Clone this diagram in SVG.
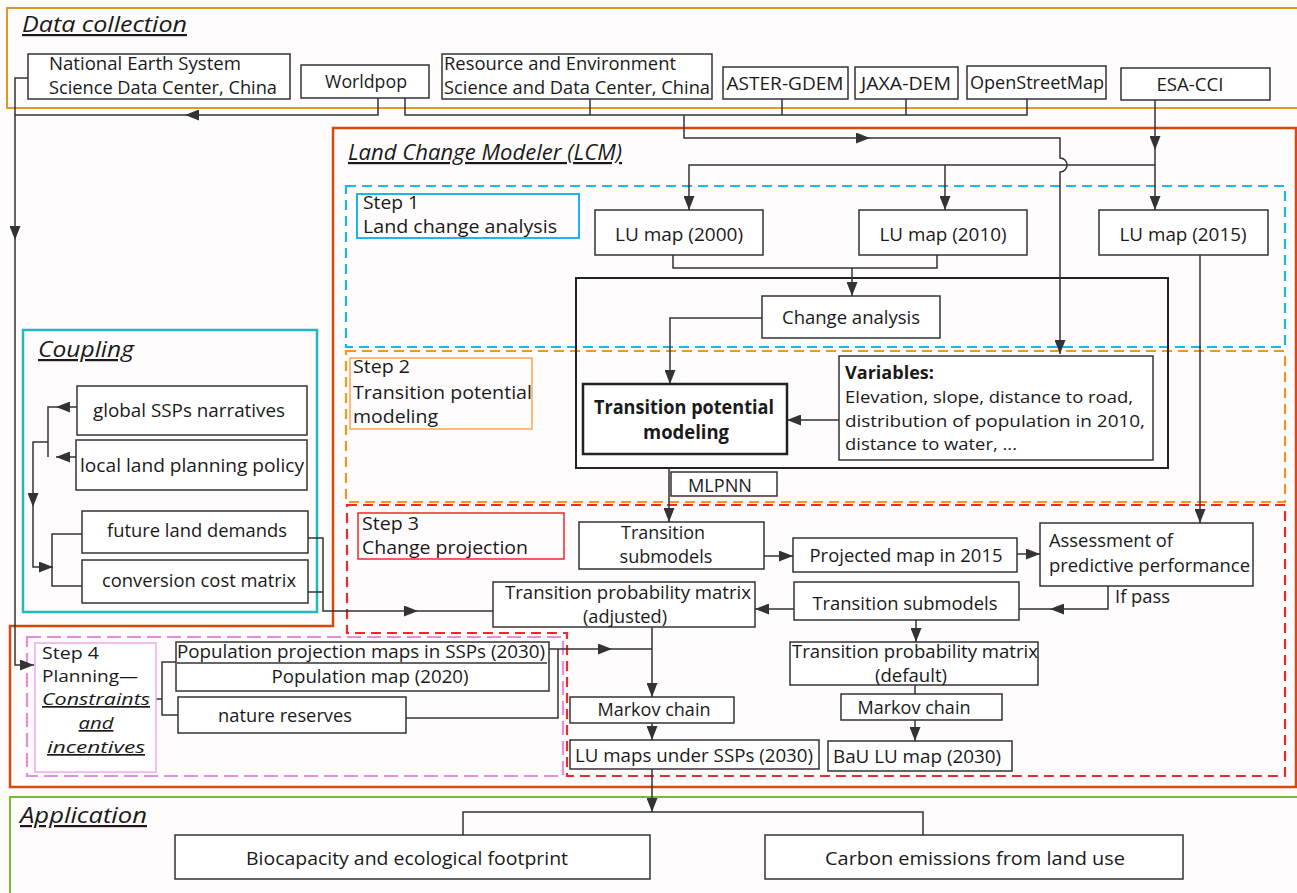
<svg xmlns="http://www.w3.org/2000/svg" width="1297" height="893" viewBox="0 0 1297 893">
<style>
text{font-family:"Open Sans","Noto Sans",sans-serif;font-size:19px;fill:#1a1a1a}
.c{text-anchor:middle}
.ttl{font-size:22px;font-style:italic;text-decoration:underline}
.it{font-style:italic;text-decoration:underline}
.b{font-weight:bold}
.v{font-size:17px}
.s4{font-size:17px}
.m{font-size:17.5px}
.box{fill:#fff;stroke:#333;stroke-width:1.5}
.bold{fill:none;stroke:#222;stroke-width:2.5}
.ln{fill:none;stroke:#333;stroke-width:1.5}
.dash{fill:none;stroke-width:2.2;stroke-dasharray:10 6}
</style>
<defs>
<marker id="a" markerUnits="userSpaceOnUse" markerWidth="14" markerHeight="11" refX="14" refY="5.5" orient="auto"><path d="M0,0 L14,5.5 L0,11 z" fill="#333"/></marker>
</defs>
<rect width="1297" height="893" fill="#fefcfc"/>

<g id="frames">
<rect x="7" y="8" width="1300" height="100" fill="none" stroke="#e09a24" stroke-width="2"/>
<path d="M333,128 H1296 V787 H10 V626 H333 Z" fill="none" stroke="#d9480f" stroke-width="2.5"/>
<rect x="10" y="797" width="1300" height="110" fill="none" stroke="#7dba2f" stroke-width="2"/>
<rect x="23" y="330" width="294" height="282" fill="none" stroke="#22b8bd" stroke-width="2.5"/>
<rect x="346" y="186" width="939" height="161" class="dash" stroke="#1cb5ef"/>
<rect x="346" y="351" width="939" height="151" class="dash" stroke="#f7941d"/>
<path d="M347,505 H1285 V776 H567 V633 H347 Z" class="dash" stroke="#ee2a2a"/>
<rect x="27" y="637" width="536" height="139" class="dash" stroke="#e58fd8" style="stroke-dasharray:14 6"/>
<rect x="576" y="278" width="592" height="190" class="bold" style="stroke-width:2"/>
<text x="22" y="32" class="ttl" textLength="165" lengthAdjust="spacingAndGlyphs">Data collection</text>
<text x="348" y="160" class="ttl" textLength="274" lengthAdjust="spacingAndGlyphs">Land Change Modeler (LCM)</text>
<text x="38" y="357" class="ttl" textLength="96" lengthAdjust="spacingAndGlyphs">Coupling</text>
<text x="20" y="823" class="ttl" textLength="127" lengthAdjust="spacingAndGlyphs">Application</text>
</g>

<g id="connectors" class="ln">
<path d="M28,78 H15 V115"/>
<path d="M378,98 V115 H185" marker-end="url(#a)"/>
<path d="M185,115 H15 V240" marker-end="url(#a)"/>
<path d="M15,240 V665 H34" marker-end="url(#a)"/>
<path d="M405,98 V115 H1027 V99"/>
<path d="M590,99 V115 M782,99 V115 M906,99 V115"/>
<path d="M684,115 V138 H870" marker-end="url(#a)"/>
<path d="M870,138 H1060 V158 A7,7 0 0 1 1060,172 V354" marker-end="url(#a)"/>
<path d="M1155,100 V150" marker-end="url(#a)"/>
<path d="M1155,150 V210" marker-end="url(#a)"/>
<path d="M1155,165 H689 V210" marker-end="url(#a)"/>
<path d="M945,165 V210" marker-end="url(#a)"/>
<path d="M673,255 V268 H937 V255"/>
<path d="M852,268 V296" marker-end="url(#a)"/>
<path d="M762,318 H670 V384" marker-end="url(#a)"/>
<path d="M839,420 H787" marker-end="url(#a)"/>
<path d="M669,468 V522" marker-end="url(#a)"/>
<path d="M1200,255 V523" marker-end="url(#a)"/>
<path d="M764,556 H793" marker-end="url(#a)"/>
<path d="M1017,554 H1040" marker-end="url(#a)"/>
<path d="M1108,586 V609 H1050" marker-end="url(#a)"/>
<path d="M1050,609 H1019"/>
<path d="M794,609 H755" marker-end="url(#a)"/>
<path d="M308,538 H323 V611 H418" marker-end="url(#a)"/>
<path d="M418,611 H493 M308,592 H323"/>
<path d="M916,620 V642" marker-end="url(#a)"/>
<path d="M915,685 V694"/>
<path d="M915,720 V741" marker-end="url(#a)"/>
<path d="M652,627 V697" marker-end="url(#a)"/>
<path d="M549,649 H612" marker-end="url(#a)"/>
<path d="M612,649 H652 M406,718 H558 V649"/>
<path d="M652,723 V740" marker-end="url(#a)"/>
<path d="M652,769 V812" marker-end="url(#a)"/>
<path d="M463,835 V812 H923 V835"/>
<path d="M156,699 H162 M176,662 H162 V715 H178"/>
<path d="M77,407 H56" marker-end="url(#a)"/>
<path d="M76,457 H56" marker-end="url(#a)"/>
<path d="M56,407 H48 V457 M48,442 H33 V507" marker-end="url(#a)"/>
<path d="M33,507 V567 H53" marker-end="url(#a)"/>
<path d="M82,534 H52 V586 H82"/>
</g>

<g id="n-national"><rect x="28" y="54" width="262" height="45" class="box"/>
<text x="49" y="70" textLength="192" lengthAdjust="spacingAndGlyphs">National Earth System</text>
<text x="49" y="94" textLength="228" lengthAdjust="spacingAndGlyphs">Science Data Center, China</text></g>
<g id="n-worldpop"><rect x="301" y="65" width="128" height="33" class="box"/>
<text x="366" y="88" class="c" textLength="82" lengthAdjust="spacingAndGlyphs">Worldpop</text></g>
<g id="n-resource"><rect x="442" y="54" width="270" height="45" class="box"/>
<text x="444" y="70" textLength="232" lengthAdjust="spacingAndGlyphs">Resource and Environment</text>
<text x="444" y="94" textLength="266" lengthAdjust="spacingAndGlyphs">Science and Data Center, China</text></g>
<g id="n-aster"><rect x="723" y="67" width="125" height="32" class="box"/>
<text x="785" y="90" class="c" textLength="117" lengthAdjust="spacingAndGlyphs">ASTER-GDEM</text></g>
<g id="n-jaxa"><rect x="855" y="67" width="103" height="32" class="box"/>
<text x="906" y="90" class="c" textLength="90" lengthAdjust="spacingAndGlyphs">JAXA-DEM</text></g>
<g id="n-osm"><rect x="967" y="66" width="139" height="33" class="box"/>
<text x="1037" y="89" class="c" textLength="134" lengthAdjust="spacingAndGlyphs">OpenStreetMap</text></g>
<g id="n-esa"><rect x="1121" y="68" width="149" height="32" class="box"/>
<text x="1190" y="91" class="c" textLength="67" lengthAdjust="spacingAndGlyphs">ESA-CCI</text></g>

<g id="n-step1"><rect x="357" y="194" width="222" height="44" fill="none" stroke="#1cb5ef" stroke-width="2"/>
<text x="363" y="209" textLength="56" lengthAdjust="spacingAndGlyphs">Step 1</text>
<text x="363" y="233" textLength="194" lengthAdjust="spacingAndGlyphs">Land change analysis</text></g>
<g id="n-lu2000"><rect x="595" y="210" width="168" height="45" class="box"/>
<text x="679" y="241" class="c" textLength="128" lengthAdjust="spacingAndGlyphs">LU map (2000)</text></g>
<g id="n-lu2010"><rect x="859" y="210" width="168" height="45" class="box"/>
<text x="943" y="241" class="c" textLength="127" lengthAdjust="spacingAndGlyphs">LU map (2010)</text></g>
<g id="n-lu2015"><rect x="1099" y="210" width="169" height="45" class="box"/>
<text x="1183" y="241" class="c" textLength="127" lengthAdjust="spacingAndGlyphs">LU map (2015)</text></g>
<g id="n-change"><rect x="762" y="296" width="178" height="42" class="box"/>
<text x="851" y="324" class="c" textLength="138" lengthAdjust="spacingAndGlyphs">Change analysis</text></g>

<g id="n-step2"><rect x="350" y="358" width="182" height="71" fill="none" stroke="#f7941d" stroke-width="1.2"/>
<text x="353" y="373" textLength="57" lengthAdjust="spacingAndGlyphs">Step 2</text>
<text x="353" y="399" textLength="179" lengthAdjust="spacingAndGlyphs">Transition potential</text>
<text x="353" y="423" textLength="85" lengthAdjust="spacingAndGlyphs">modeling</text></g>
<g id="n-tpm"><rect x="583" y="384" width="204" height="70" fill="#fff" stroke="#222" stroke-width="2.5"/>
<text x="684" y="414" class="c b" textLength="180" lengthAdjust="spacingAndGlyphs">Transition potential</text>
<text x="686" y="439" class="c b" textLength="86" lengthAdjust="spacingAndGlyphs">modeling</text></g>
<g id="n-variables"><rect x="839" y="356" width="314" height="104" class="box"/>
<text x="845" y="379" class="b v" textLength="89" lengthAdjust="spacingAndGlyphs">Variables:</text>
<text x="845" y="403" class="v" textLength="288" lengthAdjust="spacingAndGlyphs">Elevation, slope, distance to road,</text>
<text x="845" y="427" class="v" textLength="300" lengthAdjust="spacingAndGlyphs">distribution of population in 2010,</text>
<text x="845" y="450" class="v" textLength="172" lengthAdjust="spacingAndGlyphs">distance to water, ...</text></g>
<g id="n-mlpnn"><rect x="671" y="472" width="106" height="24" class="box"/>
<text x="720" y="492" class="c" textLength="64" lengthAdjust="spacingAndGlyphs">MLPNN</text></g>

<g id="n-step3"><rect x="358" y="513" width="206" height="46" fill="none" stroke="#ee2a2a" stroke-width="1.5"/>
<text x="362" y="530" class="m" textLength="57" lengthAdjust="spacingAndGlyphs">Step 3</text>
<text x="362" y="554" class="m" textLength="166" lengthAdjust="spacingAndGlyphs">Change projection</text></g>
<g id="n-tsub1"><rect x="579" y="522" width="185" height="47" class="box"/>
<text x="663" y="539" class="c" textLength="84" lengthAdjust="spacingAndGlyphs">Transition</text>
<text x="666" y="563" class="c" textLength="93" lengthAdjust="spacingAndGlyphs">submodels</text></g>
<g id="n-projected"><rect x="793" y="538" width="224" height="34" class="box"/>
<text x="906" y="562" class="c" textLength="193" lengthAdjust="spacingAndGlyphs">Projected map in 2015</text></g>
<g id="n-assess"><rect x="1040" y="523" width="213" height="63" class="box"/>
<text x="1049" y="547" textLength="124" lengthAdjust="spacingAndGlyphs">Assessment of</text>
<text x="1049" y="572" textLength="201" lengthAdjust="spacingAndGlyphs">predictive performance</text></g>
<text x="1115" y="603" textLength="55" lengthAdjust="spacingAndGlyphs">If pass</text>
<g id="n-tsub2"><rect x="794" y="582" width="225" height="38" class="box"/>
<text x="905" y="610" class="c" textLength="185" lengthAdjust="spacingAndGlyphs">Transition submodels</text></g>
<g id="n-tpadj"><rect x="493" y="582" width="262" height="45" class="box"/>
<text x="628" y="599" class="c m" textLength="246" lengthAdjust="spacingAndGlyphs">Transition probability matrix</text>
<text x="625" y="623" class="c m" textLength="84" lengthAdjust="spacingAndGlyphs">(adjusted)</text></g>
<g id="n-tpdef"><rect x="790" y="642" width="248" height="43" class="box"/>
<text x="915" y="658" class="c m" textLength="246" lengthAdjust="spacingAndGlyphs">Transition probability matrix</text>
<text x="911" y="682" class="c m" textLength="72" lengthAdjust="spacingAndGlyphs">(default)</text></g>
<g id="n-markov1"><rect x="570" y="697" width="164" height="26" class="box"/>
<text x="654" y="716" class="c" textLength="113" lengthAdjust="spacingAndGlyphs">Markov chain</text></g>
<g id="n-markov2"><rect x="841" y="694" width="161" height="26" class="box"/>
<text x="914" y="714" class="c" textLength="113" lengthAdjust="spacingAndGlyphs">Markov chain</text></g>
<g id="n-lussp"><rect x="570" y="740" width="249" height="29" class="box"/>
<text x="694" y="762" class="c" textLength="238" lengthAdjust="spacingAndGlyphs">LU maps under SSPs (2030)</text></g>
<g id="n-bau"><rect x="828" y="741" width="184" height="30" class="box"/>
<text x="917" y="763" class="c" textLength="168" lengthAdjust="spacingAndGlyphs">BaU LU map (2030)</text></g>

<g id="n-ssp"><rect x="77" y="386" width="230" height="49" class="box"/>
<text x="93" y="417" textLength="192" lengthAdjust="spacingAndGlyphs">global SSPs narratives</text></g>
<g id="n-local"><rect x="76" y="440" width="231" height="50" class="box"/>
<text x="80" y="472" textLength="224" lengthAdjust="spacingAndGlyphs">local land planning policy</text></g>
<g id="n-demand"><rect x="82" y="511" width="226" height="42" class="box"/>
<text x="107" y="537" textLength="180" lengthAdjust="spacingAndGlyphs">future land demands</text></g>
<g id="n-cost"><rect x="82" y="560" width="226" height="43" class="box"/>
<text x="102" y="587" textLength="194" lengthAdjust="spacingAndGlyphs">conversion cost matrix</text></g>

<g id="n-step4"><rect x="35" y="643" width="121" height="129" fill="#fff" stroke="#f0a8f0" stroke-width="1.5"/>
<text x="42" y="659" class="s4" textLength="57" lengthAdjust="spacingAndGlyphs">Step 4</text>
<text x="42" y="682" class="s4" textLength="96" lengthAdjust="spacingAndGlyphs">Planning—</text>
<text x="42" y="705" class="s4 it" textLength="108" lengthAdjust="spacingAndGlyphs">Constraints</text>
<text x="96" y="729" class="s4 c it" textLength="35" lengthAdjust="spacingAndGlyphs">and</text>
<text x="47" y="753" class="s4 it" textLength="98" lengthAdjust="spacingAndGlyphs">incentives</text></g>
<g id="n-pop"><rect x="176" y="642" width="373" height="49" class="box"/>
<path d="M177,663 H547" class="ln"/>
<text x="177" y="658" textLength="368" lengthAdjust="spacingAndGlyphs">Population projection maps in SSPs (2030)</text>
<text x="370" y="683" class="c" textLength="197" lengthAdjust="spacingAndGlyphs">Population map (2020)</text></g>
<g id="n-reserves"><rect x="178" y="697" width="228" height="36" class="box"/>
<text x="285" y="722" class="c" textLength="134" lengthAdjust="spacingAndGlyphs">nature reserves</text></g>

<g id="n-bio"><rect x="175" y="835" width="475" height="44" class="box"/>
<text x="407" y="865" class="c" textLength="322" lengthAdjust="spacingAndGlyphs">Biocapacity and ecological footprint</text></g>
<g id="n-carbon"><rect x="765" y="835" width="418" height="44" class="box"/>
<text x="975" y="865" class="c" textLength="300" lengthAdjust="spacingAndGlyphs">Carbon emissions from land use</text></g>
</svg>
